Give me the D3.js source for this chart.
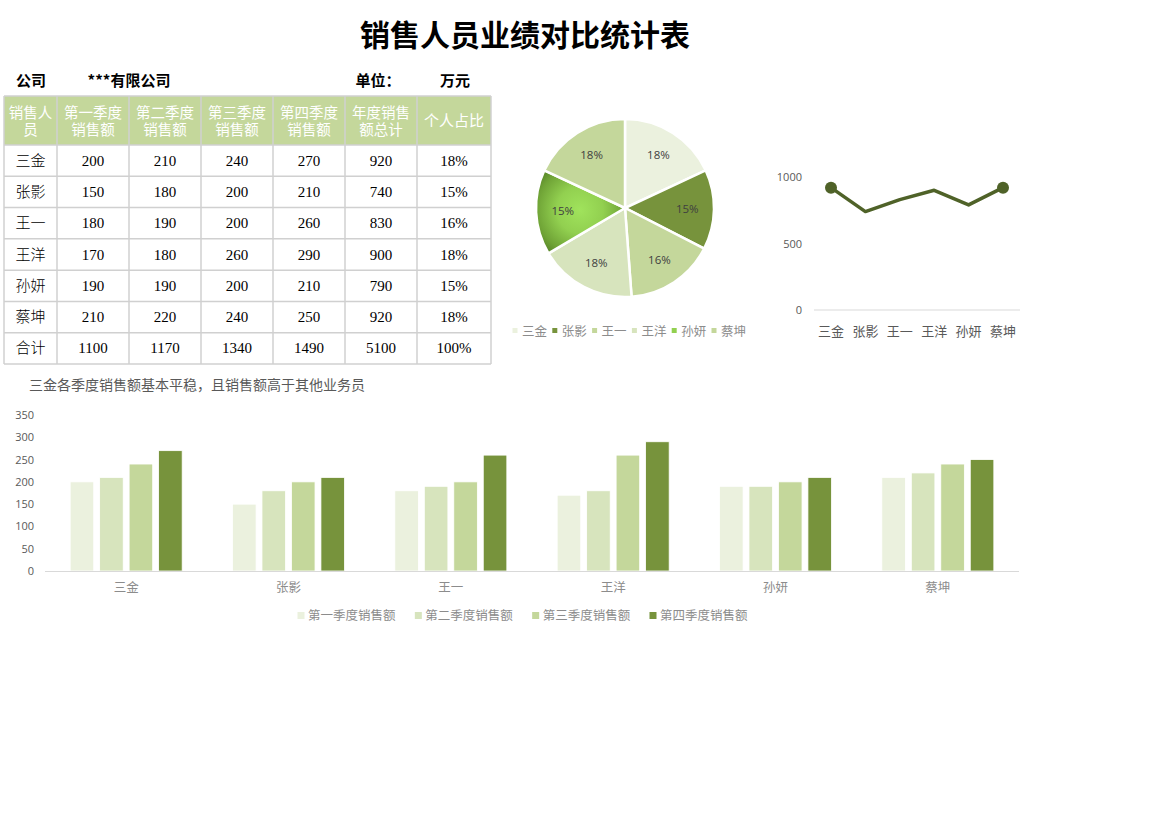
<!DOCTYPE html>
<html><head><meta charset="utf-8">
<script src="https://cdn.jsdelivr.net/npm/d3@7"></script>
<style>
body{margin:0;background:#fff;}
svg{display:block;}
</style></head>
<body>
<svg id="c" width="1170" height="827"></svg>
<script>
const names = ["三金","张影","王一","王洋","孙妍","蔡坤"];
const q1 = [200,150,180,170,190,210];
const q2 = [210,180,190,180,190,220];
const q3 = [240,200,200,260,200,240];
const q4 = [270,210,260,290,210,250];
const totals = [920,740,830,900,790,920];
const shares = ["18%","15%","16%","18%","15%","18%"];
const sumRow = ["合计","1100","1170","1340","1490","5100","100%"];
const headers = [["销售人","员"],["第一季度","销售额"],["第二季度","销售额"],["第三季度","销售额"],["第四季度","销售额"],["年度销售","额总计"],["个人占比"]];
const quarterNames = ["第一季度销售额","第二季度销售额","第三季度销售额","第四季度销售额"];
const barTicks = [0,50,100,150,200,250,300,350];
const lineTicks = [0,500,1000];

const qColors = ["#ebf1de","#d7e4bd","#c4d79b","#77933c"];
const pieColors = ["#ebf1de","#77933c","#c4d79b","#d7e4bd","url(#gradSun)","#c4d79b"];
const pieLegendColors = ["#ebf1de","#77933c","#c4d79b","#d7e4bd","#92d050","#c4d79b"];
const CJK = "'Noto Sans CJK SC','Noto Sans',sans-serif";
const SERIF = "'Liberation Serif','Noto Sans CJK SC',serif";

const svg = d3.select("#c");
const defs = svg.append("defs");

// Title
svg.append("text").attr("x",525).attr("y",46).attr("text-anchor","middle")
  .style("font-family",CJK).style("font-size","30px").style("font-weight","bold").attr("fill","#000")
  .text("销售人员业绩对比统计表");

// Info row
const info = [["公司",31],["***有限公司",129],["单位：",378],["万元",455]];
svg.selectAll("text.info").data(info).enter().append("text").attr("class","info")
  .attr("x",d=>d[1]).attr("y",86).attr("text-anchor","middle")
  .style("font-family",CJK).style("font-size","15px").style("font-weight","bold").attr("fill","#000")
  .text(d=>d[0]);

// Table
const colEdges = [4,57,129,201,273,345,417,491];
const headTop = 96, headBottom = 145, tableBottom = 364;
const rows = names.map((n,i)=>[n,q1[i],q2[i],q3[i],q4[i],totals[i],shares[i]].map(String));
rows.push(sumRow);
const rowScale = d3.scaleBand().domain(d3.range(rows.length)).range([headBottom,tableBottom]);
const tbl = svg.append("g");
tbl.append("rect").attr("x",colEdges[0]).attr("y",headTop).attr("width",colEdges[7]-colEdges[0]).attr("height",headBottom-headTop).attr("fill","#c4d79b");
headers.forEach((h,j)=>{
  const cx = (colEdges[j]+colEdges[j+1])/2;
  if(h.length===2){
    tbl.append("text").attr("x",cx).attr("y",118).attr("text-anchor","middle").attr("fill","#fff")
      .style("font-family",CJK).style("font-size","14.5px").text(h[0]);
    tbl.append("text").attr("x",cx).attr("y",135).attr("text-anchor","middle").attr("fill","#fff")
      .style("font-family",CJK).style("font-size","14.5px").text(h[1]);
  } else {
    tbl.append("text").attr("x",cx).attr("y",126).attr("text-anchor","middle").attr("fill","#fff")
      .style("font-family",CJK).style("font-size","15px").text(h[0]);
  }
});
rows.forEach((r,i)=>{
  r.forEach((v,j)=>{
    const cx = (colEdges[j]+colEdges[j+1])/2;
    tbl.append("text").attr("x",cx).attr("y",rowScale(i)+rowScale.bandwidth()/2+5).attr("text-anchor","middle")
      .attr("fill","#000").style("font-family", j===0?CJK:SERIF).style("font-size","15px")
      .style("font-weight", j===0?"300":"normal")
      .text(v);
  });
});
// grid lines
const gridC = "#d0d0d0";
colEdges.forEach(x=>{
  tbl.append("line").attr("x1",x).attr("x2",x).attr("y1",headTop).attr("y2",tableBottom).attr("stroke",gridC).attr("stroke-width",1.5);
});
[headTop,headBottom].concat(d3.range(1,rows.length+1).map(i=>rowScale(i-1)+rowScale.bandwidth())).forEach(y=>{
  tbl.append("line").attr("x1",colEdges[0]).attr("x2",colEdges[7]).attr("y1",y).attr("y2",y).attr("stroke",gridC).attr("stroke-width",1.5);
});

// Pie
const pcx = 625, pcy = 208, pr = 89;
const grad = defs.append("radialGradient").attr("id","gradSun").attr("gradientUnits","userSpaceOnUse")
  .attr("cx",-45).attr("cy",2).attr("r",58);
grad.append("stop").attr("offset","0%").attr("stop-color","#a0e35c");
grad.append("stop").attr("offset","40%").attr("stop-color","#92d050");
grad.append("stop").attr("offset","75%").attr("stop-color","#6fa336");
grad.append("stop").attr("offset","100%").attr("stop-color","#4a7420");
const pie = d3.pie().sort(null).value(d=>d)(totals);
const arc = d3.arc().innerRadius(0).outerRadius(pr);
const labelArc = d3.arc().innerRadius(pr*0.7).outerRadius(pr*0.7);
const pg = svg.append("g").attr("transform",`translate(${pcx},${pcy})`);
pg.selectAll("path").data(pie).enter().append("path").attr("d",arc)
  .attr("fill",(d,i)=>pieColors[i]).attr("stroke","#fff").attr("stroke-width",2.5);
pg.selectAll("text").data(pie).enter().append("text")
  .attr("transform",d=>{const c=labelArc.centroid(d);return `translate(${c[0]},${c[1]+4})`;})
  .attr("text-anchor","middle").style("font-family","'Open Sans',sans-serif").style("font-size","11.5px").attr("fill","#404040")
  .text((d,i)=>shares[i]);
// pie legend
const plx = d3.scalePoint().domain(names).range([515,714]);
const pl = svg.append("g");
pl.selectAll("rect").data(names).enter().append("rect").attr("x",d=>plx(d)-2.5).attr("y",328).attr("width",5).attr("height",5)
  .attr("fill",(d,i)=>pieLegendColors[i]);
pl.selectAll("text").data(names).enter().append("text").attr("x",d=>plx(d)+7).attr("y",336)
  .style("font-family",CJK).style("font-size","12.5px").attr("fill","#8c8c8c").text(d=>d);

// Line chart
const lx = d3.scalePoint().domain(names).range([831,1003]);
const ly = d3.scaleLinear().domain([0,1000]).range([310,177]);
const lg = svg.append("g");
lg.append("line").attr("x1",814).attr("x2",1020).attr("y1",ly(0)).attr("y2",ly(0)).attr("stroke","#d9d9d9").attr("stroke-width",1);
lg.selectAll("text.yt").data(lineTicks).enter().append("text").attr("class","yt")
  .attr("x",802).attr("y",d=>ly(d)+4).attr("text-anchor","end")
  .style("font-family","'Open Sans',sans-serif").style("font-size","11px").attr("fill","#595959").text(d=>d);
lg.selectAll("text.xt").data(names).enter().append("text").attr("class","xt")
  .attr("x",d=>lx(d)).attr("y",336).attr("text-anchor","middle")
  .style("font-family",CJK).style("font-size","13px").attr("fill","#595959").text(d=>d);
lg.append("path").datum(totals).attr("fill","none").attr("stroke","#4f6228").attr("stroke-width",3.5)
  .attr("stroke-linejoin","round")
  .attr("d",d3.line().x((d,i)=>lx(names[i])).y(d=>ly(d)));
lg.selectAll("circle").data([0,names.length-1]).enter().append("circle")
  .attr("cx",i=>lx(names[i])).attr("cy",i=>ly(totals[i])).attr("r",6).attr("fill","#4f6228");

// Subtitle
svg.append("text").attr("x",29).attr("y",390)
  .style("font-family",CJK).style("font-size","14px").attr("fill","#595959")
  .text("三金各季度销售额基本平稳，且销售额高于其他业务员");

// Bar chart
const bx = d3.scaleBand().domain(names).range([45,1019]).paddingInner(0.31).paddingOuter(0.155);
const bq = d3.scaleBand().domain(d3.range(4)).range([0,bx.bandwidth()]).paddingInner(0.2);
const by = d3.scaleLinear().domain([0,350]).range([571,415]);
const bg = svg.append("g");
bg.selectAll("text.yt").data(barTicks).enter().append("text").attr("class","yt")
  .attr("x",34).attr("y",d=>by(d)+4).attr("text-anchor","end")
  .style("font-family","'Open Sans',sans-serif").style("font-size","11px").attr("fill","#595959").text(d=>d);
const series = [q1,q2,q3,q4];
series.forEach((s,k)=>{
  bg.selectAll(null).data(s).enter().append("rect")
    .attr("x",(d,i)=>bx(names[i])+bq(k)).attr("width",bq.bandwidth())
    .attr("y",d=>by(d)).attr("height",d=>by(0)-by(d))
    .attr("fill",qColors[k]).attr("stroke","#fff").attr("stroke-width",0.8);
});
bg.append("line").attr("x1",45).attr("x2",1019).attr("y1",by(0)+0.5).attr("y2",by(0)+0.5).attr("stroke","#d9d9d9").attr("stroke-width",1.2);
bg.selectAll("text.xt").data(names).enter().append("text").attr("class","xt")
  .attr("x",d=>bx(d)+bx.bandwidth()/2).attr("y",592).attr("text-anchor","middle")
  .style("font-family",CJK).style("font-size","12.5px").attr("fill","#8c8c8c").text(d=>d);
// legend
const blx = d3.scalePoint().domain(quarterNames).range([301,653]);
bg.selectAll("rect.lg").data(quarterNames).enter().append("rect").attr("class","lg")
  .attr("x",d=>blx(d)-3.5).attr("y",612).attr("width",7).attr("height",7).attr("fill",(d,i)=>qColors[i]);
bg.selectAll("text.lg").data(quarterNames).enter().append("text").attr("class","lg")
  .attr("x",d=>blx(d)+7).attr("y",620)
  .style("font-family",CJK).style("font-size","12.5px").attr("fill","#8c8c8c").text(d=>d);
</script>
</body></html>
